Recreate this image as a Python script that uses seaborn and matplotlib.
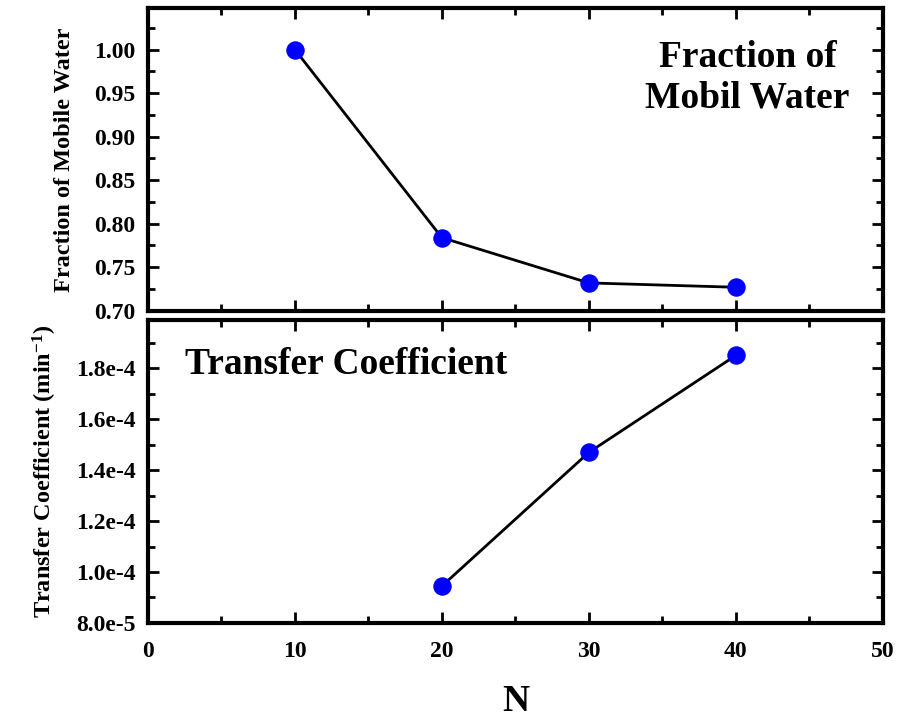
import matplotlib
matplotlib.use("Agg")
import matplotlib.pyplot as plt
from matplotlib.ticker import MultipleLocator, FuncFormatter
import seaborn as sns
import pandas as pd

# Data
n_mobile = [10, 20, 30, 40]
frac_mobile = [1.000, 0.784, 0.732, 0.727]
n_transfer = [20, 30, 40]
transfer_coef = [9.45e-5, 1.47e-4, 1.851e-4]

sns.set_theme(style="white")
plt.rcParams['font.family'] = ['Liberation Serif', 'DejaVu Serif']
plt.rcParams['font.weight'] = 'bold'
plt.rcParams['text.color'] = 'black'
plt.rcParams['axes.labelcolor'] = 'black'
plt.rcParams['xtick.color'] = 'black'
plt.rcParams['ytick.color'] = 'black'
plt.rcParams['mathtext.fontset'] = 'custom'
plt.rcParams['mathtext.rm'] = 'Liberation Serif:bold'
plt.rcParams['mathtext.bf'] = 'Liberation Serif:bold'
plt.rcParams['mathtext.default'] = 'bf'

fig = plt.figure(figsize=(8.97, 7.21), dpi=100)
ax1 = fig.add_axes([0.165, 0.569, 0.819, 0.420])
ax2 = fig.add_axes([0.165, 0.136, 0.819, 0.420])

df1 = pd.DataFrame({"N": n_mobile, "frac": frac_mobile})
df2 = pd.DataFrame({"N": n_transfer, "coef": transfer_coef})

line_kw = dict(color="black", linewidth=2.0, marker="o", markersize=12.5,
               markerfacecolor="#0000ff", markeredgecolor="#0000ff")
sns.lineplot(data=df1, x="N", y="frac", ax=ax1, **line_kw)
sns.lineplot(data=df2, x="N", y="coef", ax=ax2, **line_kw)

for ax in (ax1, ax2):
    ax.set_xlim(0, 50)
    ax.xaxis.set_major_locator(MultipleLocator(10))
    ax.xaxis.set_minor_locator(MultipleLocator(5))
    for sp in ax.spines.values():
        sp.set_linewidth(3.0)
        sp.set_color("black")
    ax.tick_params(which="both", direction="in", top=True, right=True,
                   bottom=True, left=True, width=2.0, colors="black")
    ax.tick_params(which="major", length=8, labelsize=17)
    ax.tick_params(axis="y", which="major", pad=9)
    ax.tick_params(axis="x", which="major", pad=13)
    ax.tick_params(which="minor", length=5)
    for lab in ax.get_xticklabels() + ax.get_yticklabels():
        lab.set_fontweight("bold")

ax1.set_ylim(0.70, 1.048)
ax1.yaxis.set_major_locator(MultipleLocator(0.05))
ax1.yaxis.set_minor_locator(MultipleLocator(0.025))
ax1.yaxis.set_major_formatter(FuncFormatter(lambda v, p: f"{v:.2f}"))
ax1.tick_params(axis="x", labelbottom=False)
ax1.set_xlabel("")
ax1.set_ylabel("Fraction of Mobile Water", fontsize=17.5, fontweight="bold", labelpad=14)
ax1.text(0.955, 0.77, "Fraction of\nMobil Water", transform=ax1.transAxes,
         ha="right", va="center", fontsize=27, fontweight="bold",
         linespacing=1.2, multialignment="center")


def sci_fmt(v, p):
    s = f"{v:.1e}"
    mant, exp = s.split("e")
    return f"{mant}e{int(exp)}"


ax2.set_ylim(8.0e-5, 1.99e-4)
ax2.yaxis.set_major_locator(MultipleLocator(2e-5))
ax2.yaxis.set_minor_locator(MultipleLocator(1e-5))
ax2.yaxis.set_major_formatter(FuncFormatter(sci_fmt))
ax2.set_xlabel("N", fontsize=27, fontweight="bold", labelpad=16)
ax2.set_ylabel("Transfer Coefficient (min$^{-1}$)", fontsize=17.5,
               fontweight="bold", labelpad=12)
ax2.text(0.05, 0.855, "Transfer Coefficient", transform=ax2.transAxes,
         ha="left", va="center", fontsize=27, fontweight="bold")

fig.savefig("out.png", dpi=100)
